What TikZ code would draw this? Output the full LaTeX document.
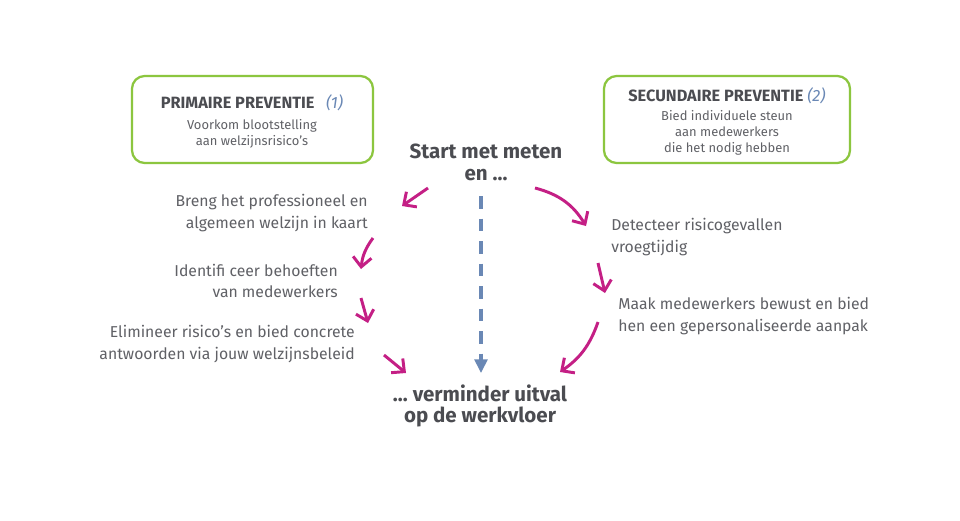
\documentclass[tikz,border=0pt]{standalone}
\usepackage{fontspec}
\setmainfont{Fira Sans}
\usetikzlibrary{arrows.meta}
\definecolor{boxgreen}{HTML}{8CC63F}
\definecolor{pink}{HTML}{C41F85}
\definecolor{dashblue}{HTML}{6A88B5}
\definecolor{txtgray}{HTML}{606166}
\definecolor{txtdark}{HTML}{4B4C51}
\begin{document}
\begin{tikzpicture}[x=0.025cm,y=-0.025cm,>=Stealth,
    prevbox/.style={draw=boxgreen,line width=1.6pt,rounded corners=9pt},
    bodytxt/.style={text=txtgray,font=\fontsize{11.2}{15.5}\selectfont,inner sep=0pt},
    boxtxt/.style={text=txtgray,font=\fontsize{9.2}{11.3}\selectfont,align=center,inner sep=0pt},
    boxhead/.style={text=txtdark,font=\fontsize{11.6}{14}\selectfont\bfseries,inner sep=0pt},
    headtxt/.style={text=txtdark,font=\fontsize{14.6}{15.5}\selectfont\bfseries,align=center,inner sep=0pt},
    pinkarrow/.style={draw=pink,line width=2.1pt,-{Straight Barb[length=2.4mm,width=4.6mm]}}]
  \useasboundingbox[fill=white] (0,0) rectangle (960,520);
  \draw[prevbox] (132,76) rectangle (373,163);
  \draw[prevbox] (604,76) rectangle (850,163);
  \node[boxhead] (prim) at (252,103) {PRIMAIRE PREVENTIE\ \ \ \textmd{\textit{\color{dashblue}(1)}}};
  \node[boxtxt] (primsub) at (252,134) {Voorkom blootstelling\\aan welzijnsrisico’s};
  \node[boxhead] (sec) at (727,96) {SECUNDAIRE PREVENTIE\ \textmd{\textit{\color{dashblue}(2)}}};
  \node[boxtxt] (secsub) at (727,133) {Bied individuele steun\\aan medewerkers\\die het nodig hebben};
  \node[headtxt] (start) at (486,162) {Start met meten\\en \dots};
  \node[headtxt] (end) at (480,406) {\dots\ verminder uitval\\op de werkvloer};
  \node[bodytxt,anchor=east,align=right] (breng) at (368,213) {Breng het professioneel en\\algemeen welzijn in kaart};
  \node[bodytxt,anchor=east,align=right] (ident) at (338,281) {Identifi ceer behoeften\\van medewerkers};
  \node[bodytxt,anchor=east,align=right] (elim) at (355,344) {Elimineer risico’s en bied concrete\\antwoorden via jouw welzijnsbeleid};
  \node[bodytxt,anchor=west,align=left] (detect) at (611,237) {Detecteer risicogevallen\\vroegtijdig};
  \node[bodytxt,anchor=west,align=left] (maak) at (618,316) {Maak medewerkers bewust en bied\\hen een gepersonaliseerde aanpak};
  \coordinate (l1s) at (428,188); \coordinate (l1e) at (402,206);
  \coordinate (l2s) at (373,238); \coordinate (l2e) at (361,269);
  \coordinate (l3s) at (361,298); \coordinate (l3e) at (368,323);
  \coordinate (l4s) at (384,355); \coordinate (l4e) at (406,373);
  \coordinate (r1s) at (535,188); \coordinate (r1e) at (586,226);
  \coordinate (r2s) at (598,263); \coordinate (r2e) at (605,293);
  \coordinate (r3s) at (598,322); \coordinate (r3e) at (560,372);
  \coordinate (dtop) at (481,196); \coordinate (dbot) at (481,373);
  \draw[pinkarrow] (l1s) -- (l1e);
  \draw[pinkarrow] (l2s) to[bend right=15] (l2e);
  \draw[pinkarrow] (l3s) -- (l3e);
  \draw[pinkarrow] (l4s) -- (l4e);
  \draw[pinkarrow] (r1s) to[bend left=22] (r1e);
  \draw[pinkarrow] (r2s) -- (r2e);
  \draw[pinkarrow] (r3s) to[bend left=18] (r3e);
  \draw[dashblue,line width=2.2pt,dash pattern=on 9pt off 7pt,-{Triangle[length=3.4mm,width=3.2mm]}] (dtop) -- (dbot);
\end{tikzpicture}
\end{document}
